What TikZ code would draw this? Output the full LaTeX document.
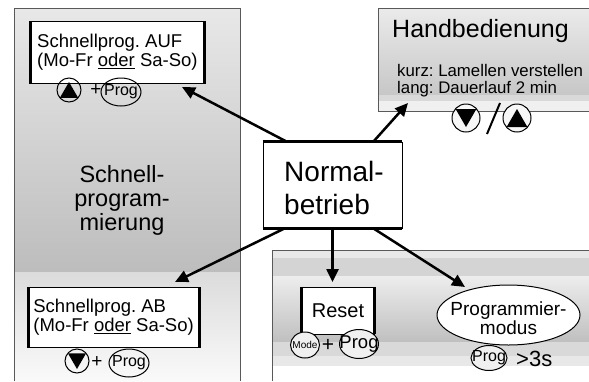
\documentclass[tikz,border=0pt]{standalone}
\usepackage{fontspec}
\setmainfont{Liberation Sans}
\usetikzlibrary{arrows.meta,shapes.geometric}

\newcommand{\fsz}[2]{\fontsize{#1}{#2}\selectfont}
\frenchspacing

\begin{document}
\begin{tikzpicture}[x=1pt, y=-1pt,
    panel/.style = {draw=black!65, line width=0.7pt},
    txtbox/.style = {draw, fill=white, line width=0.8pt, align=left, anchor=north west, inner xsep=6pt, inner ysep=0pt, font=\fsz{18.5}{19}},
    thickside/.style = {line width=3pt},
    btn/.style = {draw, circle, line width=1pt, inner sep=0pt, minimum size=24pt},
    prog/.style = {draw, ellipse, line width=1pt, inner sep=-6pt, minimum width=40pt, minimum height=28pt, font=\fsz{16}{16}},
    tri/.style = {regular polygon, regular polygon sides=3, fill, inner sep=0pt, minimum size=21pt},
    arr/.style = {line width=2.5pt, -{Triangle[length=13pt,width=12pt]}}]
    \useasboundingbox (0,0) rectangle (589,381);

    % panels
    \fill[top color=black!9, bottom color=black!26] (14,8) rectangle (240,272);
    \fill[top color=black!14, bottom color=black!2] (14,272) rectangle (240,381);
    \draw[panel] (14,381) -- (14,8) -- (240,8) -- (240,381);

    \fill[top color=black!8, bottom color=black!22] (378,8) rectangle (589,95);
    \fill[black!15] (378,95) rectangle (589,101);
    \fill[black!6] (378,101) rectangle (589,111);
    \draw[panel] (589,111) -- (378,111) -- (378,8) -- (589,8);

    \fill[black!9] (272,250) rectangle (589,258);
    \fill[black!17] (272,258) rectangle (589,276);
    \fill[top color=black!7, bottom color=black!25] (272,276) rectangle (589,342);
    \fill[black!15] (272,342) rectangle (589,356);
    \fill[black!9] (272,356) rectangle (589,366);
    \draw[panel] (272,381) -- (272,250) -- (589,250);

    % Schnellprogrammierung
    \node[align=center, font=\fsz{23.5}{24}] (sptitle) at (122,200) {Schnell-\\program-\\mierung};

    \node[txtbox, minimum width=174pt, minimum height=62pt] (auf) at (30,21) {Schnellprog. AUF\\(Mo-Fr \underline{oder} Sa-So)};
    \draw[thickside] (auf.north west) -- (auf.south west);
    \draw[thickside] (auf.north east) -- (auf.south east);
    \node[btn] (aufup) at (69,90) {};
    \node[tri, yshift=-2.5pt] at (aufup) {};
    \node[font=\fsz{19}{19}] (aufplus) at (96,90) {+};
    \node[prog] (aufprog) at (121,92) {Prog};

    \node[txtbox, inner xsep=5pt, minimum width=170pt, minimum height=60pt] (ab) at (28,287) {Schnellprog. AB\\(Mo-Fr \underline{oder} Sa-So)};
    \draw[thickside] (ab.north west) -- (ab.south west);
    \draw[thickside] (ab.north east) -- (ab.south east);
    \node[btn] (abdown) at (77,361) {};
    \node[tri, shape border rotate=180, yshift=2.5pt] at (abdown) {};
    \node[font=\fsz{19}{19}] (abplus) at (97,362) {+};
    \node[prog] (abprog) at (129,363) {Prog};

    % Handbedienung
    \node[anchor=base west, inner sep=0pt, font=\fsz{25}{25}] (hand) at (392,37) {Handbedienung};
    \node[anchor=base west, inner sep=0pt, font=\fsz{16.8}{17}] (kurz) at (397,76) {kurz: Lamellen verstellen};
    \node[anchor=base west, inner sep=0pt, font=\fsz{16.8}{17}] (lang) at (397,93) {lang: Dauerlauf 2 min};
    \node[btn, minimum size=28pt, fill=black!3] (hdown) at (466,118) {};
    \node[tri, minimum size=24pt, shape border rotate=180, yshift=3pt] at (hdown) {};
    \node[btn, minimum size=28pt, fill=black!3] (hup) at (517,118) {};
    \node[tri, minimum size=24pt, yshift=-3pt] at (hup) {};
    \draw[line width=2pt] (500,103) -- (487,134);

    % Normalbetrieb
    \node[draw, fill=white, line width=0.8pt, minimum width=139pt, minimum height=86pt] (norm) at (332.5,185) {};
    \node[align=left, font=\fsz{28}{33}] (normtxt) at (334,187.5) {Normal-\\betrieb};
    \draw[thickside] (norm.north west) -- (norm.north east);
    \draw[thickside] (norm.south west) -- (norm.south east);

    % Reset
    \node[draw, fill=white, line width=0.8pt, minimum width=72pt, minimum height=47pt, font=\fsz{20}{20}] (reset) at (338,310.5) {Reset};
    \draw[thickside] (reset.north west) -- (reset.south west);
    \draw[thickside] (reset.north east) -- (reset.south east);
    \node[prog, fill=black!6, minimum width=29pt, minimum height=26pt, font=\fsz{10}{10}] (mode) at (305,345) {Mode};
    \node[font=\fsz{21}{21}] (resetplus) at (328,345) {+};
    \node[prog, fill=black!6, minimum width=39pt, minimum height=29pt, font=\fsz{18.5}{18}] (resetprog) at (359,344) {Prog};

    % Programmiermodus
    \node[prog, fill=white, minimum width=143pt, minimum height=60pt] (pmode) at (508.5,315) {};
    \node[align=center, font=\fsz{19}{19.5}] (pmodetxt) at (508.5,318) {Programmier-\\modus};
    \node[prog, fill=black!6, minimum width=36pt, minimum height=25pt, font=\fsz{16}{16}] (pmodeprog) at (489,358) {Prog};
    \node[anchor=base west, inner sep=0pt, font=\fsz{22}{22}] (pmodetime) at (516,366) {>3s};

    % arrows
    \coordinate (aufin) at (182,87);
    \coordinate (handin) at (408,103);
    \coordinate (abin) at (175,282);
    \coordinate (resetin) at (332.5,282);
    \coordinate (pmodein) at (465,287);
    \draw[arr] ([xshift=24pt]norm.north west) -- (aufin);
    \draw[arr] ([xshift=-29pt]norm.north east) -- (handin);
    \draw[arr] ([xshift=22pt]norm.south west) -- (abin);
    \draw[arr] (norm.south) -- (resetin);
    \draw[arr] ([xshift=-29pt]norm.south east) -- (pmodein);
\end{tikzpicture}
\end{document}
